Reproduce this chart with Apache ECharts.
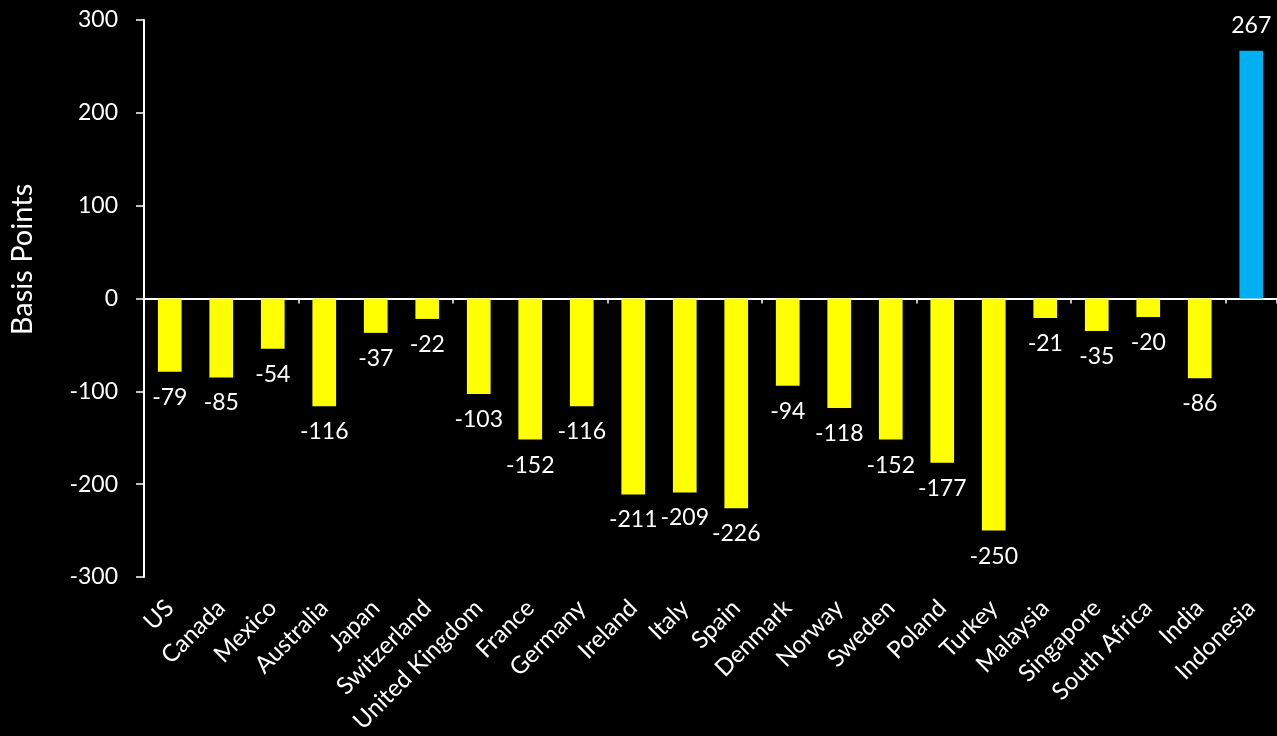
<!DOCTYPE html>
<html>
<head>
<meta charset="utf-8">
<script src="https://cdn.jsdelivr.net/npm/echarts@6/dist/echarts.min.js"></script>
<style>
html,body{margin:0;padding:0;background:#000;}
#chart{width:1277px;height:736px;}
</style>
</head>
<body>
<div id="chart"></div>
<script>
const categories = ['US','Canada','Mexico','Australia','Japan','Switzerland','United Kingdom','France','Germany','Ireland','Italy','Spain','Denmark','Norway','Sweden','Poland','Turkey','Malaysia','Singapore','South Africa','India','Indonesia'];
const values = [-79,-85,-54,-116,-37,-22,-103,-152,-116,-211,-209,-226,-94,-118,-152,-177,-250,-21,-35,-20,-86,267];
const yTicks = { min: -300, max: 300, interval: 100 };

const FONT = 'Lato';
const chart = echarts.init(document.getElementById('chart'));
chart.setOption({
  backgroundColor: '#000',
  animation: false,
  grid: { left: 141, right: -4, top: 20, bottom: 159, containLabel: false },
  xAxis: [{
    type: 'category',
    data: categories,
    axisLine: { onZero: true, lineStyle: { color: '#fff', width: 2 } },
    axisTick: { show: true, inside: false, length: 5, lineStyle: { color: '#fff', width: 1.5 } },
    axisLabel: { show: false }
  }, {
    type: 'category',
    data: categories,
    position: 'bottom',
    axisLine: { show: false, onZero: false },
    axisTick: { show: false },
    axisLabel: { show: true, rotate: 45, margin: 27, color: '#fff', fontFamily: FONT, fontSize: 24, interval: 0 }
  }],
  yAxis: {
    type: 'value',
    min: yTicks.min, max: yTicks.max, interval: yTicks.interval,
    name: 'Basis Points',
    nameLocation: 'middle',
    nameGap: 107,
    nameTextStyle: { color: '#fff', fontFamily: FONT, fontSize: 29, padding: [0, 0, 0, 78] },
    axisLine: { show: true, lineStyle: { color: '#fff', width: 2 } },
    axisTick: { show: true, length: 8, lineStyle: { color: '#fff', width: 1.5 } },
    splitLine: { show: false },
    axisLabel: { color: '#fff', fontFamily: FONT, fontSize: 23, margin: 26 }
  },
  series: [{
    type: 'bar',
    xAxisIndex: 0,
    barWidth: '46%',
    data: values.map(v => v >= 0 ? { value: v, label: { position: 'top' } } : v),
    itemStyle: { color: p => p.value >= 0 ? '#00B0F0' : '#FFFF00' },
    label: {
      show: true,
      color: '#fff',
      fontFamily: FONT,
      fontSize: 23,
      distance: 14,
      position: 'bottom'
    }
  }]
});
</script>
</body>
</html>
